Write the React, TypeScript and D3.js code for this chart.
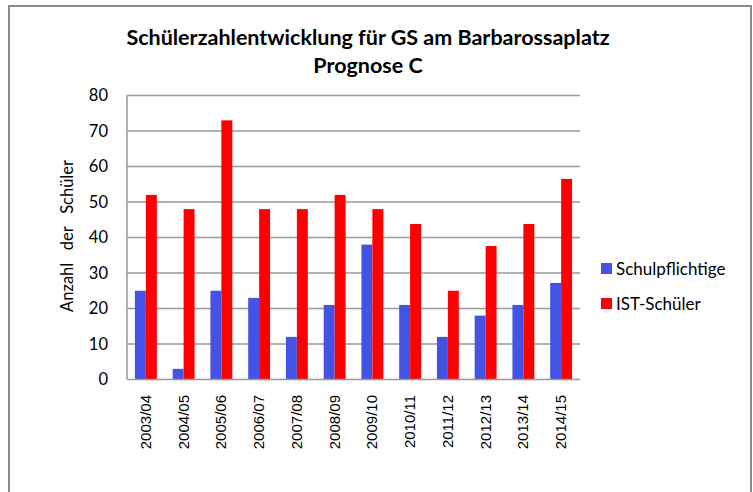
import React from "react";
import * as d3 from "d3";

const categories = ["2003/04","2004/05","2005/06","2006/07","2007/08","2008/09","2009/10","2010/11","2011/12","2012/13","2013/14","2014/15"];
const schulpflichtige = [25, 3, 25, 23, 12, 21, 38, 21, 12, 18, 21, 27.2];
const istSchueler = [52, 48, 73, 48, 48, 52, 48, 43.8, 25, 37.6, 43.8, 56.5];
const seriesNames = ["Schulpflichtige", "IST-Schüler"];
const seriesColors = ["#4353E6", "#FF0000"];
const yTicks = [0, 10, 20, 30, 40, 50, 60, 70, 80];

export default function App() {
  const W = 753, H = 492;
  const left = 127, right = 580, top = 95.5, bottom = 379.5;
  const x = d3.scaleBand().domain(categories).range([left, right]).paddingInner(0.42).paddingOuter(0.21);
  const y = d3.scaleLinear().domain([0, 80]).range([bottom, top]);
  const inner = d3.scaleBand().domain(["0", "1"]).range([0, x.bandwidth()]);
  const series = [schulpflichtige, istSchueler];
  const sans = "Lato, 'Open Sans', sans-serif";
  return (
    <svg width={W} height={H} style={{ position: "absolute", left: 0, top: 0 }}>
      <rect x={0} y={0} width={W} height={H} fill="#fff" />
      <rect x={9} y={6} width={742} height={500} fill="none" stroke="#8c8c8c" strokeWidth={2} />
      <text x={368} y={45} textAnchor="middle" fontFamily={sans} fontWeight="bold" fontSize={21.5} fill="#000">
        Schülerzahlentwicklung für GS am Barbarossaplatz
      </text>
      <text x={368} y={73} textAnchor="middle" fontFamily={sans} fontWeight="bold" fontSize={21.5} fill="#000">
        Prognose C
      </text>
      {yTicks.map((t) => (
        <g key={t}>
          {t > 0 && <line x1={left} x2={right} y1={y(t)} y2={y(t)} stroke="#999" strokeWidth={1.5} />}
          <text x={108} y={y(t) + 5.5} textAnchor="end" fontFamily={sans} fontSize={16.5} fill="#000">{t}</text>
        </g>
      ))}
      {categories.map((c, i) => (
        <g key={c}>
          {series.map((s, k) => (
            <rect key={k} x={(x(c) as number) + (inner(String(k)) as number)} y={y(s[i])}
              width={inner.bandwidth()} height={bottom - y(s[i])} fill={seriesColors[k]} />
          ))}
          <text transform={`translate(${(x(c) as number) + x.bandwidth() / 2 + 5},395) rotate(-90)`}
            textAnchor="end" fontFamily="'Liberation Sans', Arial, sans-serif" fontSize={15} fill="#000">{c}</text>
        </g>
      ))}
      <line x1={left} x2={left} y1={top} y2={bottom} stroke="#999" strokeWidth={1.5} />
      <line x1={left} x2={right} y1={bottom} y2={bottom} stroke="#999" strokeWidth={1.5} />
      <text transform="translate(73,236) rotate(-90)" textAnchor="middle" fontFamily={sans} fontSize={16.5} fill="#000"
        style={{ whiteSpace: "pre" }} xmlSpace="preserve">
        {"Anzahl   der   Schüler"}
      </text>
      {seriesNames.map((n, k) => (
        <g key={n}>
          <rect x={601} y={263 + k * 35} width={11} height={11} fill={seriesColors[k]} />
          <text x={616} y={274.5 + k * 35} fontFamily={sans} fontSize={17} fill="#000">{n}</text>
        </g>
      ))}
    </svg>
  );
}
